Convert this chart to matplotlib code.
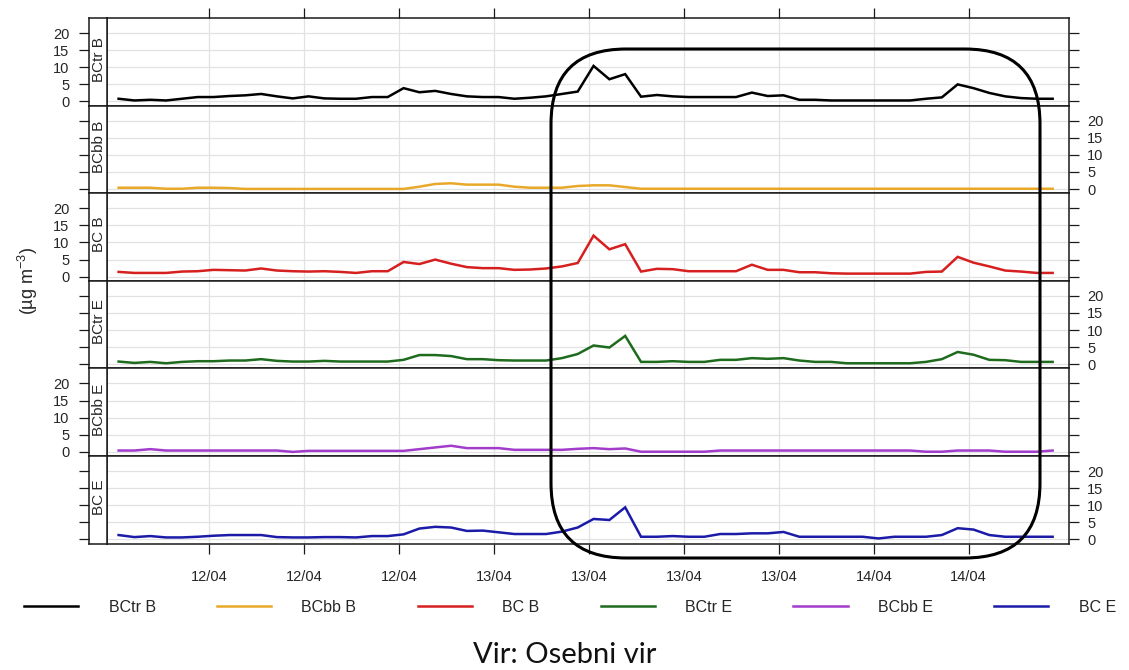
import numpy as np
import pandas as pd
import matplotlib
matplotlib.use('Agg')
import matplotlib.pyplot as plt
from matplotlib.patches import FancyBboxPatch

plt.rcParams['font.family'] = ['Liberation Sans', 'DejaVu Sans']
plt.rcParams['mathtext.fontset'] = 'custom'
plt.rcParams['mathtext.rm'] = 'Liberation Sans'

# ---------------- data ----------------
start_time = '2016-04-12 00:18'
n_hours = 60
x_start = '2016-04-11 23:34'
x_end = '2016-04-14 12:20'
tick_start = '2016-04-12 06:00'
n_ticks = 9
tick_format = '%d/%m'

series_names = ['BCtr B', 'BCbb B', 'BC B', 'BCtr E', 'BCbb E', 'BC E']
series_colors = ['#000000', '#E8A92A', '#D61F1F', '#1E6B1E', '#A23CCB', '#1B1BA8']

bctr_b = [0.8, 0.3, 0.5, 0.3, 0.8, 1.3, 1.3, 1.6, 1.8, 2.2,
          1.5, 0.9, 1.5, 0.9, 0.8, 0.8, 1.3, 1.3, 3.9, 2.7,
          3.1, 2.2, 1.5, 1.3, 1.3, 0.8, 1.1, 1.5, 2.2, 2.9,
          10.4, 6.5, 8.0, 1.4, 1.9, 1.5, 1.3, 1.3, 1.3, 1.3,
          2.6, 1.6, 1.8, 0.5, 0.5, 0.3, 0.3, 0.3, 0.3, 0.3,
          0.3, 0.8, 1.2, 5.0, 3.9, 2.5, 1.5, 1.0, 0.8, 0.8]
bcbb_b = [0.4, 0.4, 0.4, 0.1, 0.1, 0.4, 0.4, 0.3, 0.05, 0.05,
          0.05, 0.05, 0.05, 0.05, 0.05, 0.05, 0.05, 0.05, 0.05, 0.7,
          1.5, 1.7, 1.3, 1.3, 1.3, 0.7, 0.4, 0.4, 0.4, 0.9,
          1.1, 1.1, 0.6, 0.1, 0.1, 0.1, 0.1, 0.1, 0.1, 0.1,
          0.1, 0.1, 0.1, 0.1, 0.1, 0.1, 0.1, 0.1, 0.1, 0.1,
          0.1, 0.1, 0.1, 0.1, 0.1, 0.1, 0.1, 0.1, 0.1, 0.1]
bc_b = [1.4, 1.1, 1.1, 1.1, 1.5, 1.6, 2.0, 1.9, 1.8, 2.4,
        1.8, 1.6, 1.5, 1.6, 1.4, 1.1, 1.6, 1.6, 4.3, 3.7,
        5.0, 3.8, 2.8, 2.5, 2.5, 2.0, 2.1, 2.4, 3.0, 4.0,
        12.0, 8.0, 9.5, 1.5, 2.3, 2.2, 1.6, 1.6, 1.6, 1.6,
        3.5, 2.0, 2.0, 1.3, 1.3, 1.0, 0.9, 0.9, 0.9, 0.9,
        0.9, 1.4, 1.5, 5.8, 4.1, 3.0, 1.8, 1.5, 1.1, 1.1]
bctr_e = [0.8, 0.4, 0.7, 0.3, 0.7, 0.9, 0.9, 1.1, 1.1, 1.5,
          1.0, 0.8, 0.8, 1.0, 0.8, 0.8, 0.8, 0.8, 1.3, 2.7,
          2.7, 2.4, 1.5, 1.5, 1.2, 1.1, 1.1, 1.1, 1.8, 3.0,
          5.5, 4.9, 8.3, 0.7, 0.7, 0.9, 0.7, 0.7, 1.3, 1.3,
          1.8, 1.6, 1.8, 1.1, 0.7, 0.7, 0.3, 0.3, 0.3, 0.3,
          0.3, 0.7, 1.5, 3.6, 2.8, 1.3, 1.2, 0.7, 0.7, 0.7]
bcbb_e = [0.4, 0.4, 0.8, 0.4, 0.4, 0.4, 0.4, 0.4, 0.4, 0.4,
          0.4, 0.0, 0.3, 0.3, 0.3, 0.3, 0.3, 0.3, 0.3, 0.8,
          1.3, 1.8, 1.1, 1.1, 1.1, 0.6, 0.6, 0.6, 0.6, 0.9,
          1.1, 0.8, 1.0, 0.05, 0.05, 0.05, 0.05, 0.05, 0.4, 0.4,
          0.4, 0.4, 0.4, 0.4, 0.4, 0.4, 0.4, 0.4, 0.4, 0.4,
          0.4, 0.05, 0.05, 0.4, 0.4, 0.4, 0.05, 0.05, 0.05, 0.4]
bc_e = [1.3, 0.7, 1.0, 0.6, 0.6, 0.8, 1.1, 1.3, 1.3, 1.3,
        0.7, 0.6, 0.6, 0.7, 0.7, 0.6, 1.0, 1.0, 1.5, 3.2,
        3.7, 3.5, 2.5, 2.6, 2.1, 1.6, 1.6, 1.6, 2.3, 3.5,
        6.0, 5.7, 9.4, 0.8, 0.8, 1.0, 0.8, 0.8, 1.6, 1.6,
        1.8, 1.8, 2.2, 0.8, 0.8, 0.8, 0.8, 0.8, 0.3, 0.8,
        0.8, 0.8, 1.3, 3.3, 2.9, 1.3, 0.8, 0.8, 0.8, 0.8]

series_values = [bctr_b, bcbb_b, bc_b, bctr_e, bcbb_e, bc_e]
y_ticks = [0, 5, 10, 15, 20]
y_label = '(µg m$^{\\mathregular{-3}}$)'
caption = 'Vir: Osebni vir'

times = pd.date_range(start_time, periods=n_hours, freq='h')
tick_times = pd.date_range(tick_start, periods=n_ticks, freq='6h')

# ---------------- layout ----------------
W, H = 1129, 670
fig = plt.figure(figsize=(W / 100, H / 100), dpi=100)
fig.patch.set_facecolor('white')

top_px, bot_px = 18.0, 543.6
left_px, right_px = 107.0, 1069.0
strip_left = 89.0
ph = (bot_px - top_px) / 6
txt_col = '#262626'
spine_col = '#1a1a1a'

handles = []
for i, (name, vals, col) in enumerate(zip(series_names, series_values, series_colors)):
    y_top = top_px + i * ph
    rect = [left_px / W, 1 - (y_top + ph) / H, (right_px - left_px) / W, ph / H]
    ax = fig.add_axes(rect)
    srect = [strip_left / W, 1 - (y_top + ph) / H, (left_px - strip_left) / W, ph / H]
    sax = fig.add_axes(srect, sharey=ax)

    ln, = ax.plot(times, vals, color=col, lw=1.8, solid_joinstyle='miter')
    handles.append(ln)
    ax.set_ylim(-1.2, 24.4)
    ax.set_yticks(y_ticks)
    ax.set_xlim(pd.Timestamp(x_start), pd.Timestamp(x_end))
    ax.set_xticks(tick_times)
    ax.xaxis.set_major_formatter(matplotlib.dates.DateFormatter(tick_format))
    ax.grid(True, color='#e2e2e2', lw=0.9)
    ax.set_axisbelow(True)
    ax.tick_params(axis='y', left=False, labelleft=False, right=True,
                   labelright=(i % 2 == 1), direction='out', length=7, width=0.9,
                   pad=6, labelsize=10.5, labelcolor=txt_col, color=spine_col)
    ax.tick_params(axis='x', direction='out', length=7, width=0.9, pad=12,
                   labelsize=10.5, labelcolor=txt_col, color=spine_col,
                   top=(i == 0), labeltop=False,
                   bottom=(i == 5), labelbottom=(i == 5))
    for sp in ax.spines.values():
        sp.set_color(spine_col)
        sp.set_linewidth(1.1)

    sax.set_xticks([])
    sax.tick_params(axis='y', left=True, labelleft=(i % 2 == 0), right=False,
                    labelright=False, direction='out', length=7, width=0.9,
                    pad=7, labelsize=10.5, labelcolor=txt_col, color=spine_col)
    for sp in sax.spines.values():
        sp.set_color(spine_col)
        sp.set_linewidth(1.1)
    sax.text(0.58, 0.53, name, rotation=90, ha='center', va='center',
             transform=sax.transAxes, fontsize=11, color=txt_col)

fig.text(28 / W, 1 - 280.5 / H, y_label, rotation=90, ha='center', va='center',
         fontsize=13, color=txt_col)

fig.legend(handles, series_names, loc='center',
           bbox_to_anchor=(24 / W, 1 - 620 / H, 1092 / W, 26 / H),
           mode='expand', ncol=6, frameon=False, fontsize=11.5,
           handlelength=3.4, handletextpad=1.9, borderaxespad=0, borderpad=0,
           labelcolor=txt_col)

# highlight box
x0, x1, yt, yb = 551, 1040, 49, 558
r = 75
box = FancyBboxPatch((x0 / W, 1 - yb / H), (x1 - x0) / W, (yb - yt) / H,
                     boxstyle=f'round,pad=0,rounding_size={r / W}',
                     mutation_aspect=W / H, transform=fig.transFigure,
                     fill=False, edgecolor='black', lw=2.2, zorder=20)
fig.patches.append(box)

fig.text(0.5, 1 - 655 / H, caption, ha='center', va='center', fontsize=21,
         family=['Lato', 'DejaVu Sans'], color='#111111')

fig.savefig('out.png', dpi=100, facecolor='white')
